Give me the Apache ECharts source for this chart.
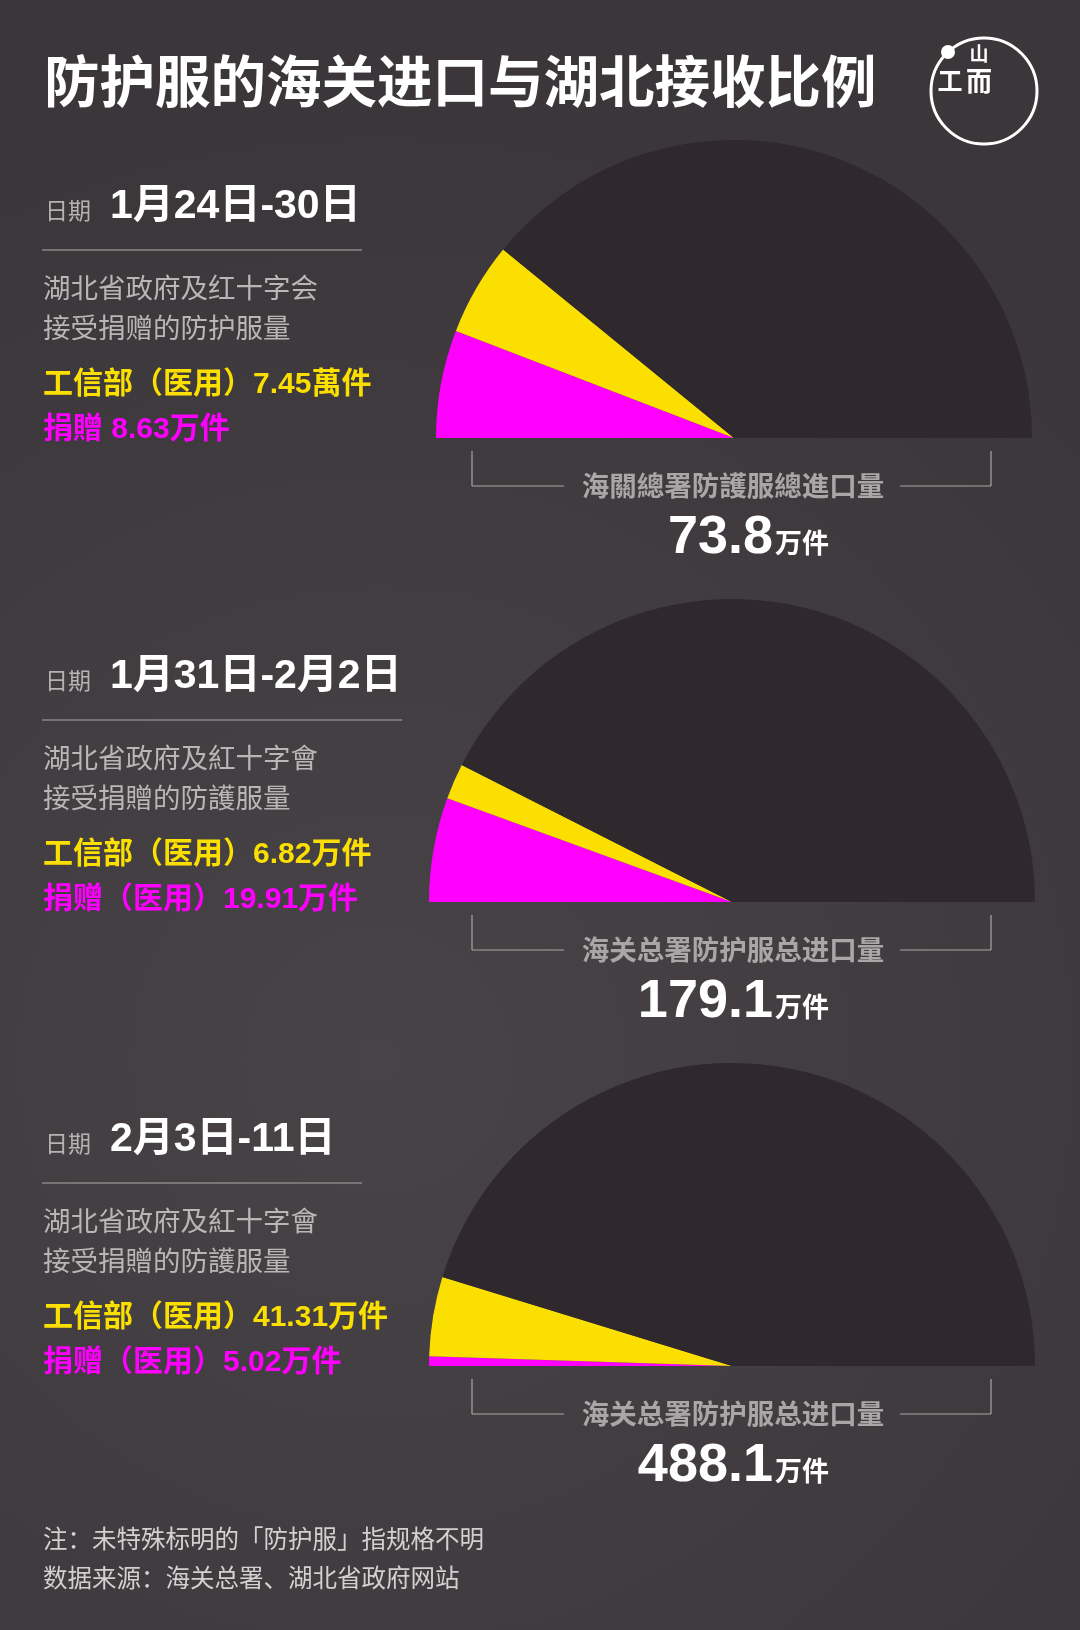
<!DOCTYPE html>
<html>
<head>
<meta charset="utf-8">
<style>
  html, body { margin: 0; padding: 0; background: #3f3b3e; }
  #main { width: 1080px; height: 1630px; }
</style>
<script src="https://cdn.jsdelivr.net/npm/echarts@6/dist/echarts.min.js"></script>
</head>
<body>
<div id="main"></div>
<script>
var dom = document.getElementById('main');
var myChart = echarts.init(dom);

// 数据
var periods = ['1月24日-30日', '1月31日-2月2日', '2月3日-11日'];
var sourceLine1 = ['湖北省政府及红十字会', '湖北省政府及紅十字會', '湖北省政府及紅十字會'];
var sourceLine2 = ['接受捐赠的防护服量', '接受捐贈的防護服量', '接受捐贈的防護服量'];
var miitValues = [7.45, 6.82, 41.31];      // 工信部（医用）
var miitUnits = ['萬件', '万件', '万件'];
var donateValues = [8.63, 19.91, 5.02];    // 捐赠
var donatePrefix = ['捐贈 ', '捐赠（医用）', '捐赠（医用）'];
var totals = [73.8, 179.1, 488.1];         // 海关总署防护服总进口量
var totalTitles = ['海關總署防護服總進口量', '海关总署防护服总进口量', '海关总署防护服总进口量'];

// 颜色
var YELLOW = '#fbdf00';
var MAGENTA = '#ff00ff';
var DARK = '#2f282d';
var NUM_FONT = "'Liberation Sans', 'Noto Sans CJK SC', sans-serif";
var CJK_FONT = "'Noto Sans CJK SC', sans-serif";

// 布局
var textTop = [210, 680, 1143];
var lineRight = [362, 402, 362];
var pieBase = [438, 902, 1366];
var pieX = [734, 732, 732];
var pieR = [298, 303, 303];

function txt(x, y, text, size, color, weight, family, align) {
	return {
		type: 'text',
		x: x,
		y: y,
		silent: true,
		style: {
			text: text,
			fill: color,
			fontSize: size,
			fontWeight: weight || 'normal',
			fontFamily: family || CJK_FONT,
			align: align || 'left',
			verticalAlign: 'middle'
		}
	};
}

function hline(x1, x2, y, color, w) {
	return {
		type: 'line',
		silent: true,
		shape: { x1: x1, y1: y, x2: x2, y2: y },
		style: { stroke: color, lineWidth: w || 1 }
	};
}

function vline(x, y1, y2, color, w) {
	return {
		type: 'line',
		silent: true,
		shape: { x1: x, y1: y1, x2: x, y2: y2 },
		style: { stroke: color, lineWidth: w || 1 }
	};
}

var graphics = [];
// 标题
graphics.push(txt(44, 81, '防护服的海关进口与湖北接收比例', 55.5, '#ffffff', 'bold'));

// logo
graphics.push({
	type: 'circle', silent: true,
	shape: { cx: 984, cy: 91, r: 53 },
	style: { fill: 'none', stroke: '#ffffff', lineWidth: 3 }
});
graphics.push({
	type: 'circle', silent: true,
	shape: { cx: 948, cy: 52, r: 7 },
	style: { fill: '#ffffff' }
});
graphics.push(txt(950, 80, '工', 25, '#ffffff', 'bold', CJK_FONT, 'center'));
graphics.push(txt(979, 54, '山', 19, '#ffffff', 'bold', CJK_FONT, 'center'));
graphics.push(txt(979, 81, '而', 26, '#ffffff', 'bold', CJK_FONT, 'center'));

var series = [];
for (var i = 0; i < periods.length; i++) {
	var t = textTop[i];
	graphics.push(txt(45, t, '日期', 23, '#b4b4b4'));
	graphics.push(txt(110, t - 3, periods[i], 41, '#ffffff', 'bold', NUM_FONT));
	graphics.push(hline(42, lineRight[i], t + 40, '#8a8789', 1.5));
	graphics.push(txt(43, t + 78, sourceLine1[i], 27.5, '#b8b6b7'));
	graphics.push(txt(43, t + 118, sourceLine2[i], 27.5, '#b8b6b7'));
	graphics.push(txt(43, t + 175, '工信部（医用）' + miitValues[i] + miitUnits[i], 30, YELLOW, 'bold', NUM_FONT));
	graphics.push(txt(43, t + 220, donatePrefix[i] + donateValues[i] + '万件', 30, MAGENTA, 'bold', NUM_FONT));

	var b = pieBase[i];
	// 括号线
	graphics.push(vline(472, b + 13, b + 48, '#a9a7a8', 1.2));
	graphics.push(hline(472, 564, b + 48, '#a9a7a8', 1.2));
	graphics.push(hline(900, 991, b + 48, '#a9a7a8', 1.2));
	graphics.push(vline(991, b + 13, b + 48, '#a9a7a8', 1.2));
	graphics.push(txt(733, b + 48, totalTitles[i], 27.5, '#a8a6a7', 'bold', CJK_FONT, 'center'));
	graphics.push(txt(773, b + 100, String(totals[i]), 54, '#ffffff', 'bold', NUM_FONT, 'right'));
	graphics.push(txt(775, b + 105, '万件', 27, '#ffffff', 'bold', CJK_FONT, 'left'));

	series.push({
		type: 'pie',
		silent: true,
		center: [pieX[i], b],
		radius: [0, pieR[i]],
		startAngle: 180,
		endAngle: 0,
		clockwise: true,
		avoidLabelOverlap: false,
		label: { show: false },
		labelLine: { show: false },
		itemStyle: { borderWidth: 0 },
		emphasis: { disabled: true },
		animation: false,
		data: [
			{ name: '捐赠', value: donateValues[i], itemStyle: { color: MAGENTA } },
			{ name: '工信部（医用）', value: miitValues[i], itemStyle: { color: YELLOW } },
			{ name: '其他', value: +(totals[i] - miitValues[i] - donateValues[i]).toFixed(2), itemStyle: { color: DARK } }
		]
	});
}

// 注释
graphics.push(txt(43, 1539, '注：未特殊标明的「防护服」指规格不明', 24.5, '#d2d0d1'));
graphics.push(txt(43, 1578, '数据来源：海关总署、湖北省政府网站', 24.5, '#d2d0d1'));

var option = {
	backgroundColor: {
		type: 'radial',
		x: 0.35, y: 0.65, r: 0.9,
		colorStops: [
			{ offset: 0, color: '#474346' },
			{ offset: 1, color: '#3a3639' }
		]
	},
	animation: false,
	series: series,
	graphic: { elements: graphics }
};

if (option && typeof option === 'object') {
	myChart.setOption(option, true);
}
</script>
</body>
</html>
